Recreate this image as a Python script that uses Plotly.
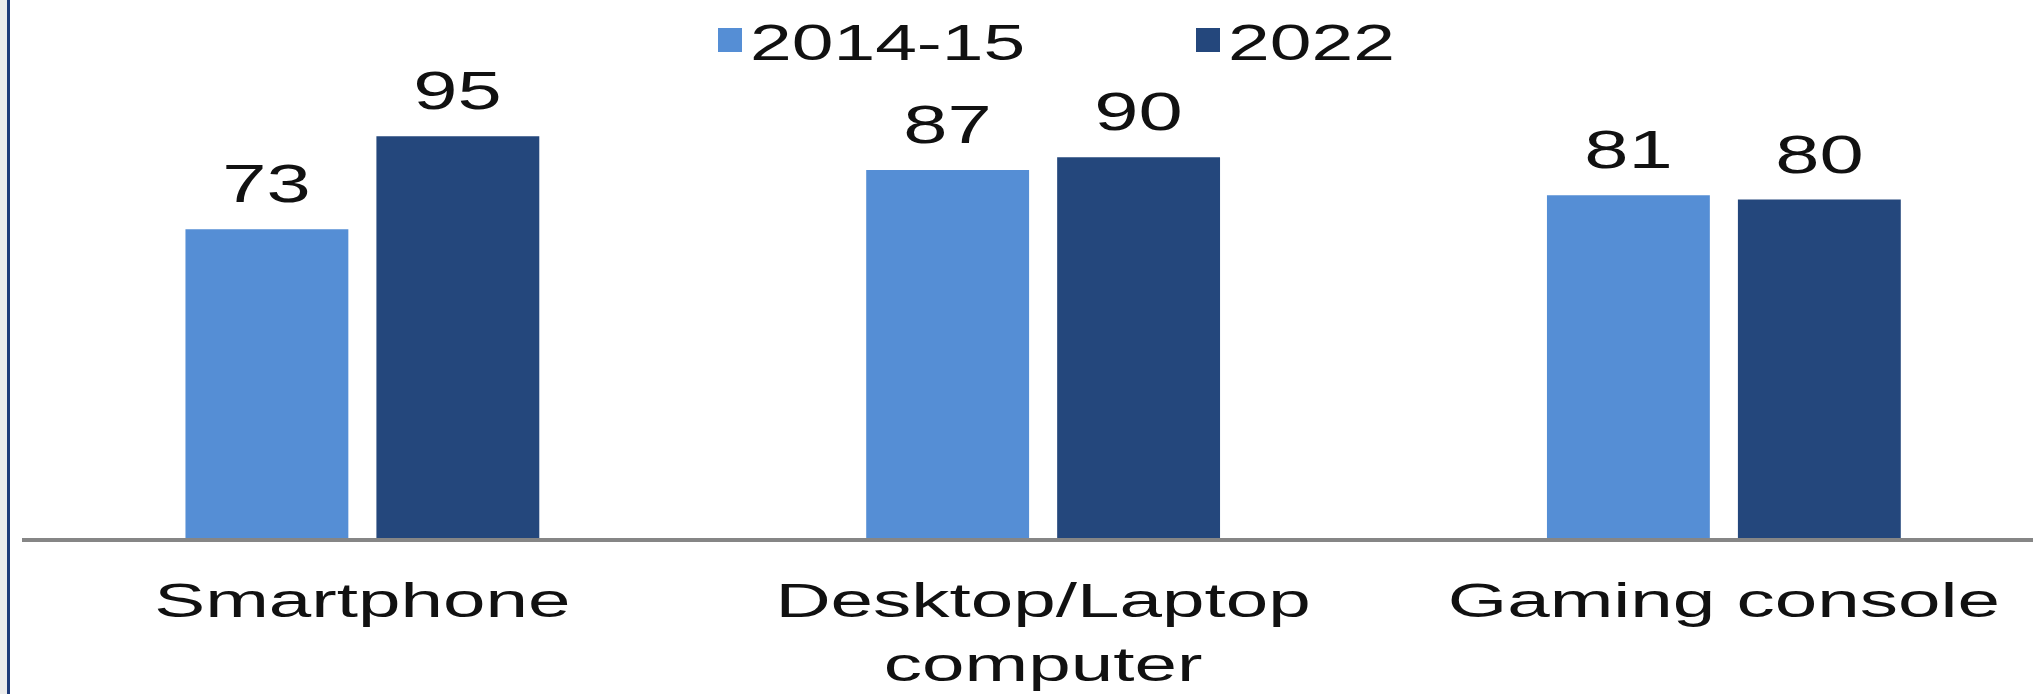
import plotly.graph_objects as go

categories = ["Smartphone", "Desktop/Laptop<br>computer", "Gaming console"]
series_names = ["2014-15", "2022"]
values_2014 = [73, 87, 81]
values_2022 = [95, 90, 80]

colors = ["#558ed5", "#24477c"]
FONT = "Liberation Sans, Arial, sans-serif"

W, H = 2033, 694
ML, MR, MT, MB = 22, 0, 40, 156
plot_w = W - ML - MR
plot_h = H - MT - MB
cat_px = 680.75
bargap = 0.439
bargroupgap = 0.147
slot_px = cat_px * (1 - bargap) / 2
px_per_unit = 4.23

fig = go.Figure()
for name, vals, col in zip(series_names, [values_2014, values_2022], colors):
    fig.add_trace(go.Bar(x=categories, y=vals, name=name, marker=dict(color=col, line=dict(width=0))))

# value labels above bars
for k, vals in enumerate([values_2014, values_2022]):
    shift = (k - 0.5) * slot_px
    for c, v in zip(categories, vals):
        fig.add_annotation(x=c, y=v, text=str(v), showarrow=False, xshift=shift,
                           yanchor="bottom", yshift=14,
                           font=dict(family=FONT, size=53, color="#111111"))

# left frame decoration
ylo = -MB / plot_h - 0.02
yhi = 1 + MT / plot_h + 0.02
fig.add_shape(type="rect", xref="paper", yref="paper", xsizemode="pixel", xanchor=0,
              x0=-ML, x1=-15, y0=ylo, y1=yhi,
              fillcolor="#ececec", line=dict(width=0), layer="above")
fig.add_shape(type="rect", xref="paper", yref="paper", xsizemode="pixel", xanchor=0,
              x0=-15, x1=-12, y0=ylo, y1=yhi,
              fillcolor="#1f3c7a", line=dict(width=0), layer="above")

fig.update_layout(
    width=W, height=H,
    margin=dict(l=ML, r=MR, t=MT, b=MB, autoexpand=False),
    paper_bgcolor="white", plot_bgcolor="white",
    barmode="group", bargap=bargap, bargroupgap=bargroupgap,
    showlegend=True,
    legend=dict(orientation="h", x=(710 - ML) / plot_w, xanchor="left", y=1.0, yanchor="middle",
                font=dict(family=FONT, size=50, color="#111111"),
                entrywidth=433, entrywidthmode="pixels", bgcolor="rgba(0,0,0,0)"),
    font=dict(family=FONT, color="#111111"),
)
fig.update_xaxes(range=[-0.5, -0.5 + plot_w / cat_px], showline=True, linecolor="#868686", linewidth=4,
                 ticks="", showgrid=False, tickfont=dict(family=FONT, size=49, color="#111111"),
                 ticklabelstandoff=16, zeroline=False, fixedrange=True)
fig.update_yaxes(range=[0, plot_h / px_per_unit], showticklabels=False, showgrid=False, zeroline=False,
                 showline=False, ticks="", fixedrange=True)

post = """
document.body.style.margin = '0';
document.body.style.overflow = 'hidden';
var gd = document.getElementById('{plot_id}');
function stretch(sel, S) {
  gd.querySelectorAll(sel).forEach(function(t){
    var lines = t.querySelectorAll('tspan.line');
    var targets = lines.length ? Array.prototype.slice.call(lines) : [t];
    targets.forEach(function(el){
      var L = el.getComputedTextLength();
      if (L > 0) { el.setAttribute('textLength', L * S); el.setAttribute('lengthAdjust', 'spacingAndGlyphs'); }
    });
  });
}
stretch('.xtick text', 1.56);
stretch('.annotation text', 1.5);
stretch('.legendtext', 1.5);
gd.querySelectorAll('.legendpoints path').forEach(function(p){
  p.setAttribute('d', 'M12,12H-12V-12H12Z');
});
"""

fig.write_html("out.html", config=dict(displayModeBar=False), post_script=post)
